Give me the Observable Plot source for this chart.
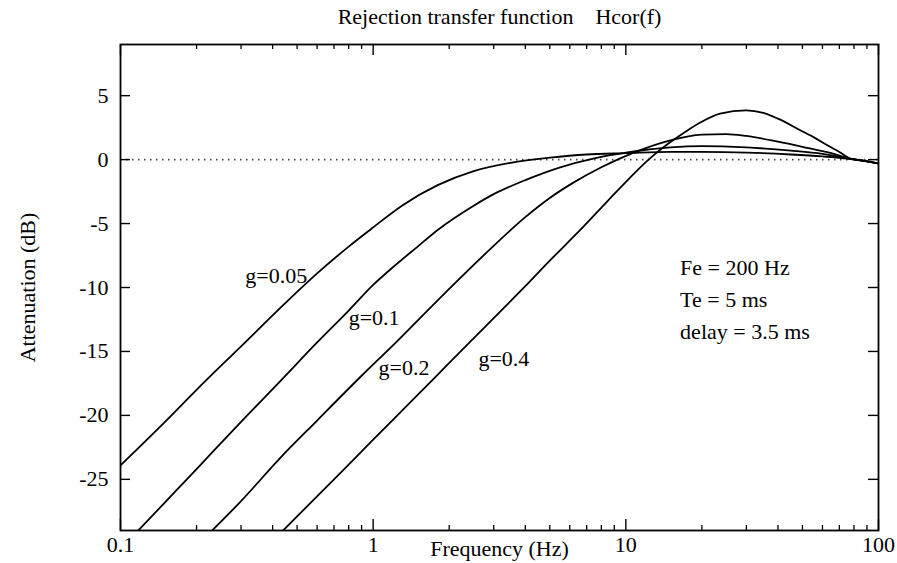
<!DOCTYPE html>
<html><head><meta charset="utf-8">
<script src="https://cdn.jsdelivr.net/npm/d3@7"></script>
<script src="https://cdn.jsdelivr.net/npm/@observablehq/plot@0.6"></script>
<style>body{margin:0;background:#fff}</style>
</head><body><div id="chart"></div>
<script>
// ---- data ----
const seriesNames = ["g=0.05", "g=0.1", "g=0.2", "g=0.4"];

const freq_g005 = [0.1,0.15,0.2,0.3,0.45,0.6,0.8,1,1.3,1.8,2.5,3.5,5,7,10,15,20,30,45,60,78,88,100];
const db_g005   = [-23.9,-20.5,-18.0,-14.6,-11.2,-8.9,-6.8,-5.3,-3.6,-2.0,-0.9,-0.25,0.15,0.4,0.5,0.6,0.6,0.55,0.4,0.25,0.05,-0.1,-0.3];

const freq_g01 = [0.11,0.15,0.2,0.3,0.43,0.6,0.8,1,1.2,1.5,1.8,2.5,3,4,5.5,7.5,10,15,20,30,45,60,78,88,100];
const db_g01   = [-29.6,-26.8,-24.2,-20.5,-17.3,-14.3,-11.8,-9.8,-8.4,-6.8,-5.5,-3.6,-2.7,-1.6,-0.6,0.1,0.55,0.95,1.05,0.95,0.7,0.45,0.05,-0.1,-0.3];

const freq_g02 = [0.22,0.3,0.43,0.6,0.9,1.2,1.8,2.8,4,5,6.2,8,9.5,12,15,20,25,30,40,50,65,78,88,100];
const db_g02   = [-29.4,-26.7,-23.3,-20.4,-16.9,-14.5,-11.0,-7.3,-4.5,-3.0,-1.8,-0.6,0.1,0.9,1.5,1.95,2.0,1.85,1.4,1.0,0.5,0.05,-0.1,-0.3];

const freq_g04 = [0.42,0.5,0.7,1,1.5,2,2.83,4,5,6.6,8.5,10.4,12.3,14.6,17,19.7,23.6,30,35,40,49,56,63,70,78,88,100];
const db_g04   = [-29.4,-27.9,-25.0,-21.9,-18.4,-15.9,-12.9,-9.9,-7.9,-5.5,-3.2,-1.4,0.0,1.2,2.1,2.9,3.6,3.85,3.65,3.2,2.3,1.7,1.1,0.6,0.05,-0.1,-0.3];

const xMajorTicks = [0.1, 1, 10, 100];
const xMinorTicks = [0.2,0.3,0.4,0.5,0.6,0.7,0.8,0.9,2,3,4,5,6,7,8,9,20,30,40,50,60,70,80,90];
const yTicks = [-25, -20, -15, -10, -5, 0, 5];

const curveLabels = ["g=0.05", "g=0.1", "g=0.2", "g=0.4"];
const curveLabelF = [0.312, 0.80, 1.05, 2.61];
const curveLabelDb = [-9.1, -12.4, -16.3, -15.55];

const noteLines = ["Fe = 200 Hz", "Te = 5 ms", "delay = 3.5 ms"];
const noteF = [16.4, 16.4, 16.4];
const noteDb = [-8.5, -11.0, -13.5];

const titleText = "Rejection transfer function\u00a0\u00a0\u00a0\u00a0Hcor(f)";
const xLabel = "Frequency (Hz)";
const yLabel = "Attenuation (dB)";

// ---- build table ----
const seriesF = [freq_g005, freq_g01, freq_g02, freq_g04];
const seriesDb = [db_g005, db_g01, db_g02, db_g04];
const rows = [];
seriesNames.forEach((name, i) => {
  seriesF[i].forEach((f, j) => rows.push({series: name, f, db: seriesDb[i][j]}));
});
const labelRows = curveLabels.map((t, i) => ({t, f: curveLabelF[i], db: curveLabelDb[i]}));
const noteRows = noteLines.map((t, i) => ({t, f: noteF[i], db: noteDb[i]}));

// ---- layout ----
const W = 897, H = 563, mL = 120, mR = 19, mT = 44, mB = 33;
const fw = W - mL - mR, fh = H - mT - mB;
const font = "'Liberation Serif', 'Times New Roman', serif";
const FS = 22;

const chart = Plot.plot({
  width: W, height: H,
  marginLeft: mL, marginRight: mR, marginTop: mT, marginBottom: mB,
  style: {fontFamily: font, fontSize: FS + "px", color: "#000", background: "#fff"},
  x: {type: "log", domain: [0.1, 100]},
  y: {domain: [-29, 9]},
  marks: [
    Plot.ruleY([0], {stroke: "#444", strokeWidth: 1.6, strokeDasharray: "1.5,4.5"}),
    Plot.line(rows, {x: "f", y: "db", z: "series", stroke: "#000", strokeWidth: 1.8, curve: "monotone-x", clip: true}),
    // inward ticks: bottom / top (major and minor)
    Plot.tickX(xMajorTicks, {x: d => d, insetTop: fh - 11, stroke: "#000", strokeWidth: 1.4}),
    Plot.tickX(xMajorTicks, {x: d => d, insetBottom: fh - 11, stroke: "#000", strokeWidth: 1.4}),
    Plot.tickX(xMinorTicks, {x: d => d, insetTop: fh - 5, stroke: "#000", strokeWidth: 1.3}),
    Plot.tickX(xMinorTicks, {x: d => d, insetBottom: fh - 5, stroke: "#000", strokeWidth: 1.3}),
    // inward ticks: left / right
    Plot.tickY(yTicks, {y: d => d, insetRight: fw - 10, stroke: "#000", strokeWidth: 1.4}),
    Plot.tickY(yTicks, {y: d => d, insetLeft: fw - 10, stroke: "#000", strokeWidth: 1.4}),
    Plot.axisX({ticks: xMajorTicks, tickSize: 0, tickPadding: 6, tickFormat: d => String(d), label: null, fontSize: FS}),
    Plot.axisY({ticks: yTicks, tickSize: 0, tickPadding: 12, tickFormat: d => String(d), label: null, fontSize: FS}),
    Plot.frame({stroke: "#000", strokeWidth: 1.8}),
    Plot.text(labelRows, {x: "f", y: "db", text: "t", textAnchor: "start", fontSize: FS, fill: "#000"}),
    Plot.text(noteRows, {x: "f", y: "db", text: "t", textAnchor: "start", fontSize: FS, fill: "#000"}),
    Plot.text([titleText], {frameAnchor: "top", dy: -28, lineAnchor: "middle", textAnchor: "middle", fontSize: FS, fill: "#000"}),
    Plot.text([xLabel], {frameAnchor: "bottom", dy: 18, lineAnchor: "middle", textAnchor: "middle", fontSize: FS, fill: "#000"}),
    Plot.text([yLabel], {frameAnchor: "left", dx: -93, rotate: -90, textAnchor: "middle", lineAnchor: "middle", fontSize: FS, fill: "#000"})
  ]
});
document.getElementById("chart").appendChild(chart);
</script>
</body></html>
